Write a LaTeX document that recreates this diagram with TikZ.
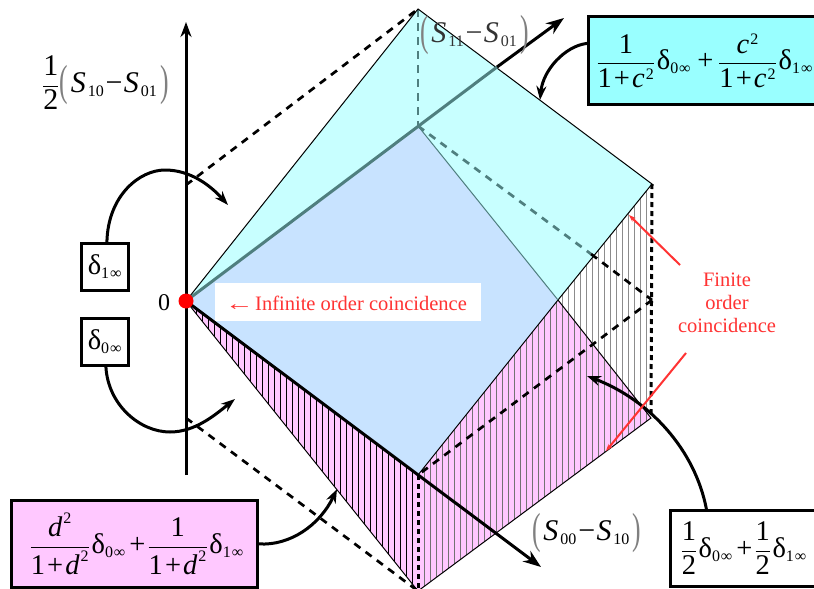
\documentclass[tikz,border=0pt]{standalone}
\usepackage{amsmath}
\usepackage{graphicx}
\usepackage{fontspec}
\setmainfont{Liberation Serif}
\usetikzlibrary{arrows.meta}
\DeclareMathSizes{28.5}{28.5}{16}{12}
\DeclareMathSizes{30}{30}{16}{12}
\definecolor{facecyan}{HTML}{C8FFFF}
\definecolor{faceblue}{HTML}{C8E3FF}
\definecolor{facepink}{HTML}{FFC8FF}
\definecolor{boxcyan}{HTML}{99FFFF}
\definecolor{tealline}{HTML}{4F7F7F}
\definecolor{redtext}{HTML}{FF3333}
\newcommand{\tI}[1]{\text{\itshape #1}}
\newcommand{\tR}[1]{\text{#1}}
\newcommand{\dl}[1]{\mskip1mu\text{δ}_{\text{#1}\mskip1mu\text{∞}}\mskip1mu}
\newcommand{\gpl}{\mbox{\raisebox{-3pt}{\textcolor{gray}{\scalebox{0.85}[1.45]{(}}}}\mskip2mu}
\newcommand{\gpr}{\mskip2mu\mbox{\raisebox{-3pt}{\textcolor{gray}{\scalebox{0.85}[1.45]{)}}}}}
\newcommand{\sub}[1]{_{\mskip2mu\text{#1}}}
\newcommand{\pl}{\mskip1.5mu\text{+}\mskip1.5mu}
\newcommand{\mn}{\mskip1mu\text{−}\mskip1mu}
\tikzset{
  x=1pt,y=-1pt,
  mathlabel/.style={font=\fontsize{30}{34}\selectfont,inner sep=0pt},
  formulabox/.style={draw=black,line width=2.8pt,inner sep=0pt,anchor=north west,font=\fontsize{28.5}{32}\selectfont},
  edge/.style={draw=black,line width=1pt},
  thickaxis/.style={line width=3pt,-{Stealth[length=15pt,width=11pt]}},
  longdash/.style={line width=2.7pt,dash pattern=on 7.5pt off 6.5pt},
  shortdash/.style={line width=3pt,dash pattern=on 5pt off 4pt},
  curvearrow/.style={line width=3pt,-{Stealth[length=14pt,width=10pt]}},
  redarrow/.style={draw=redtext,line width=2pt,-{Stealth[length=7pt,width=5pt]}},
  redlabel/.style={text=redtext,font=\fontsize{20.5}{23}\selectfont,inner sep=0pt},
}
\begin{document}
\begin{tikzpicture}
\clip (0,0) rectangle (814,589);
\fill[white] (0,0) rectangle (814,589);
% vertices
\coordinate (O) at (186,301);
\coordinate (T) at (418,9);
\coordinate (R) at (652,184);
\coordinate (A) at (418,126);
\coordinate (B) at (418,475);
\coordinate (C) at (418,591);
\coordinate (E) at (558,300);
\coordinate (D) at (651,418);
\coordinate (M) at (652,300);
\coordinate (L1) at (186,185);
\coordinate (L0) at (186,418);
\coordinate (axisTop) at (186,22);
\coordinate (axisBot) at (186,475);
\coordinate (p11) at (497,67);
\coordinate (p11tip) at (564,18);
\coordinate (p00tip) at (541,567);
\coordinate (F) at (591,254);
% faces
\fill[facecyan] (O) -- (T) -- (R) -- (E) -- (A) -- cycle;
\fill[faceblue] (O) -- (A) -- (E) -- (B) -- cycle;
\fill[facepink] (B) -- (E) -- (D) -- (C) -- cycle;
\fill[facepink] (O) -- (B) -- (C) -- cycle;
% hatching
\begin{scope}
\clip (O) -- (B) -- (C) -- cycle;
\foreach \x in {190,196,...,418} \draw[black,line width=0.7pt] (\x,290) -- (\x,595);
\end{scope}
\begin{scope}
\clip (B) -- (E) -- (D) -- (C) -- cycle;
\foreach \x in {424,430,...,652} \draw[black!55,line width=0.7pt] (\x,290) -- (\x,595);
\end{scope}
\begin{scope}
\clip (E) -- (R) -- (D) -- cycle;
\foreach \x in {562,568,...,652} \draw[black!45,line width=0.7pt] (\x,180) -- (\x,425);
\end{scope}
% white label band
\node[fill=white,inner sep=0pt,minimum width=266pt,minimum height=38pt,anchor=north west] (inf) at (215,283) {};
% dashes
\draw[longdash] (L1) -- (T);
\draw[longdash] (L0) -- (C);
\draw[longdash,tealline] (T) -- (A);
\draw[longdash,tealline] (A) -- (F);
\draw[longdash] (F) -- (M);
\draw[shortdash] (R) -- (D);
\draw[longdash] (M) -- (B);
\draw[shortdash] (B) -- (C);
% thin edges
\draw[edge] (O) -- (T) -- (R) -- (E);
\draw[edge] (E) -- (D) -- (C) -- (O);
\draw[edge] (B) -- (E);
\draw[tealline,line width=1pt] (A) -- (E);
% axes
\draw[thickaxis] (axisBot) -- (axisTop);
\draw[line width=3pt,tealline] (O) -- (p11);
\draw[thickaxis,-{Stealth[length=18pt,width=13pt]}] (p11) -- (p11tip);
\draw[thickaxis,-{Stealth[length=18pt,width=13pt]}] (O) -- (p00tip);
% labels
\node[mathlabel,anchor=west] (lab10) at (42,83)
 {$\displaystyle\frac{\tR{1}}{\tR{2}}\gpl\tI{S}\sub{10}\mn\tI{S}\sub{01}\gpr$};
\node[mathlabel,anchor=west,text=black!80] (lab11) at (420,35)
 {$\gpl\tI{S}\sub{11}\mn\tI{S}\sub{01}\gpr$};
\node[mathlabel,anchor=west] (lab00) at (532,533)
 {$\gpl\tI{S}\sub{00}\mn\tI{S}\sub{10}\gpr$};
\node[inner sep=0pt,font=\fontsize{24}{28}\selectfont] (zero) at (164,303) {0};
% formula boxes
\node[formulabox,fill=boxcyan,minimum width=234pt,minimum height=88pt] (cbox) at (587,15)
 {$\displaystyle\frac{\tR{1}}{\tR{1}\pl\tI{c}^{\mskip1mu\tR{2}}}\dl{0}\mskip2mu\pl\mskip2mu\frac{\tI{c}^{\mskip1mu\tR{2}}}{\tR{1}\pl\tI{c}^{\mskip1mu\tR{2}}}\dl{1}$};
\node[formulabox,fill=facepink,minimum width=246pt,minimum height=87pt] (mbox) at (10,499)
 {\hspace{6pt}$\displaystyle\frac{\tI{d}^{\mskip1mu\tR{2}}}{\tR{1}\pl\tI{d}^{\mskip1mu\tR{2}}}\dl{0}\pl\frac{\tR{1}}{\tR{1}\pl\tI{d}^{\mskip1mu\tR{2}}}\dl{1}$};
\node[formulabox,fill=white,minimum width=148pt,minimum height=76pt] (wbox) at (669,509)
 {$\displaystyle\frac{\tR{1}}{\tR{2}}\dl{0}\pl\frac{\tR{1}}{\tR{2}}\dl{1}$};
\node[formulabox,fill=white,minimum width=47pt,minimum height=47pt] (d1) at (80,242) {$\dl{1}$};
\node[formulabox,fill=white,minimum width=47pt,minimum height=47pt] (d0) at (80,317) {$\dl{0}$};
% red point
\fill[red] (O) circle (7.5pt);
% curved arrows
\coordinate (c1) at (228,205);
\coordinate (c0) at (235,399);
\coordinate (cm) at (337,489);
\coordinate (cc) at (540,100);
\coordinate (cw) at (587,376);
\draw[curvearrow] (d1.north) ++(2,0) .. controls (108,195) and (140,170) .. (165,170) .. controls (190,170) and (210,185) .. (c1);
\draw[curvearrow] (d0.south) ++(1,0) .. controls (108,405) and (140,432) .. (170,432) .. controls (195,432) and (215,415) .. (c0);
\draw[curvearrow] (mbox.east) .. controls (290,546) and (320,525) .. (cm);
\draw[curvearrow] (cbox.west) ++(0,-17) .. controls (565,46) and (543,70) .. (cc);
\draw[curvearrow] (wbox.north) ++(-38,0) .. controls (695,450) and (650,400) .. (cw);
% red texts
\node[redlabel,anchor=west] (inftext) at (229,303) {\makebox[26pt][l]{\hspace{-4pt}\scalebox{1.4}[1]{←}}Infinite order coincidence};
\node[redlabel,align=center] (fin) at (727,303) {Finite\\order\\coincidence};
\coordinate (r1s) at (680,265);
\coordinate (r1t) at (629,215);
\coordinate (r2s) at (686,353);
\coordinate (r2t) at (606,451);
\draw[redarrow] (r1s) -- (r1t);
\draw[redarrow] (r2s) -- (r2t);
\end{tikzpicture}
\end{document}
